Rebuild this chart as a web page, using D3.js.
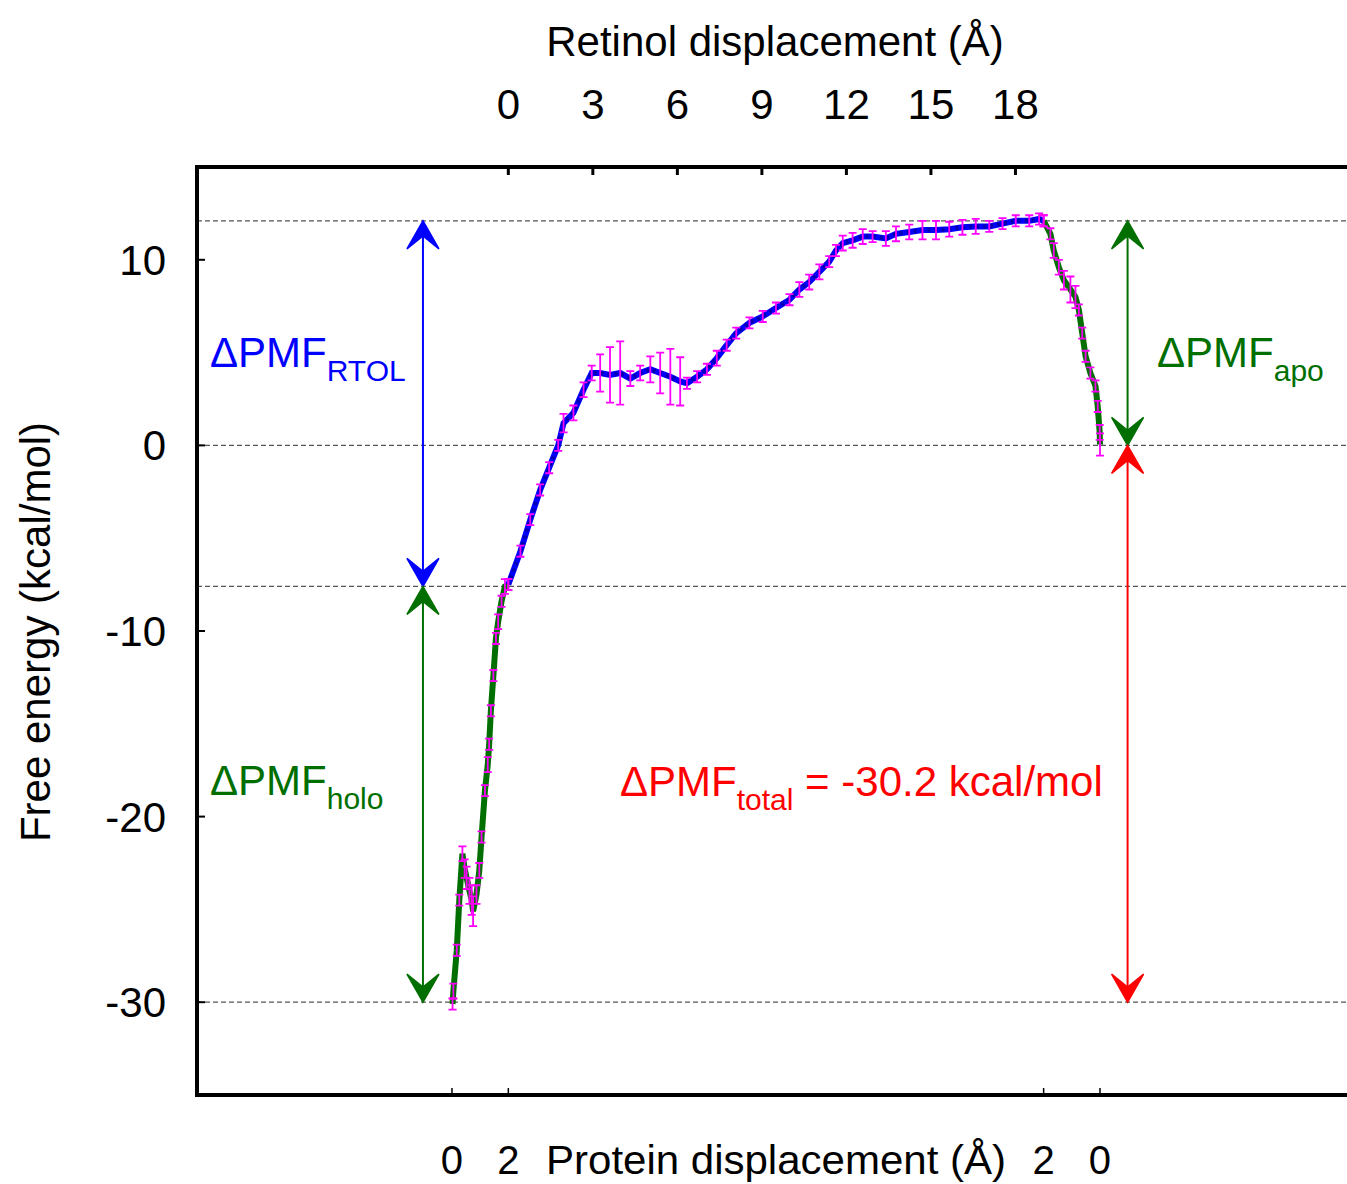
<!DOCTYPE html>
<html>
<head>
<meta charset="utf-8">
<script src="https://cdn.jsdelivr.net/npm/d3@7"></script>
<style>
  body { margin: 0; background: #fff; }
  text { font-family: "Liberation Sans", Arial, Helvetica, sans-serif; }
</style>
</head>
<body>
<svg width="1347" height="1184"></svg>
<script>
// holo segment: protein displacement 0 -> 2 A
const holoP   = [0.02, 0.05, 0.17, 0.26, 0.37, 0.45, 0.52, 0.62, 0.70, 0.75, 0.87, 0.97, 1.05, 1.17, 1.27, 1.32, 1.38, 1.47, 1.56, 1.64, 1.76, 1.88, 2.0];
const holoE   = [-30.1, -29.4, -27.2, -24.5, -22.0, -22.8, -23.3, -24.0, -24.5, -25.1, -24.2, -22.9, -21.1, -18.6, -17.2, -16.1, -14.3, -12.4, -10.4, -9.5, -8.4, -7.6, -7.5];
const holoErr = [0.3, 0.4, 0.3, 0.3, 0.4, 0.5, 0.6, 0.7, 0.8, 0.8, 0.5, 0.4, 0.3, 0.3, 0.4, 0.3, 0.3, 0.3, 0.3, 0.4, 0.3, 0.4, 0.3];

// retinol segment: retinol displacement 0 -> 19 A
const retR   = [0, 0.43, 0.78, 1.13, 1.45, 1.77, 1.96, 2.31, 2.67, 2.96, 3.26, 3.61, 3.97, 4.33, 4.68, 5.04, 5.39, 5.75, 6.1, 6.34, 6.7, 7.05, 7.4, 7.75, 8.09, 8.56, 9.03, 9.5, 9.98, 10.33, 10.68, 11.04, 11.39, 11.63, 11.87, 12.22, 12.58, 12.93, 13.4, 13.76, 14.23, 14.7, 15.18, 15.65, 16.12, 16.59, 17.07, 17.54, 18.01, 18.49, 18.84, 19.0];
const retE   = [-7.5, -5.7, -4.0, -2.4, -1.2, 0.0, 1.2, 1.75, 3.0, 3.9, 3.9, 3.8, 3.9, 3.6, 3.9, 4.1, 3.9, 3.7, 3.45, 3.35, 3.7, 4.1, 4.7, 5.4, 6.05, 6.6, 6.95, 7.4, 7.85, 8.4, 8.8, 9.35, 9.9, 10.5, 10.9, 11.05, 11.25, 11.25, 11.15, 11.4, 11.5, 11.6, 11.6, 11.65, 11.75, 11.8, 11.8, 11.95, 12.1, 12.1, 12.2, 12.1];
const retErr = [0.3, 0.3, 0.3, 0.3, 0.3, 0.3, 0.5, 0.4, 0.4, 0.4, 1.0, 1.5, 1.7, 0.4, 0.4, 0.7, 1.1, 1.5, 1.3, 0.3, 0.3, 0.3, 0.4, 0.3, 0.3, 0.3, 0.3, 0.3, 0.3, 0.4, 0.4, 0.4, 0.3, 0.3, 0.4, 0.4, 0.4, 0.3, 0.4, 0.4, 0.4, 0.5, 0.5, 0.4, 0.4, 0.4, 0.3, 0.3, 0.3, 0.3, 0.3, 0.3];

// apo segment: protein displacement 2 -> 0 A
const apoP   = [2.0, 1.76, 1.64, 1.46, 1.28, 1.05, 0.87, 0.75, 0.63, 0.51, 0.34, 0.16, 0.08, 0.01, 0.0];
const apoE   = [12.1, 11.4, 10.5, 9.6, 8.9, 8.4, 8.0, 7.3, 6.05, 4.8, 3.9, 3.2, 2.1, 0.7, 0.05];
const apoErr = [0.3, 0.3, 0.4, 0.4, 0.5, 0.7, 0.6, 0.3, 0.3, 0.3, 0.3, 0.3, 0.3, 0.4, 0.6];

const yTicks = [10, 0, -10, -20, -30];
const retTicks = [0, 3, 6, 9, 12, 15, 18];
const protTicks = [0, 2];
const refLevels = [12.1, 0, -7.6, -30];

const svg = d3.select("svg");

// one running coordinate: 0..2 holo, 2..21 retinol, 21..23 apo
const x = d3.scaleLinear().domain([-9.05, 32]).range([197, 197 + 41.05 * 28.174]);
const y = d3.scaleLinear().domain([-35, 15]).range([1095, 167]);
const holoS = p => p;
const retS = r => 2 + r;
const apoS = p => 23 - p;

const blue = "#0000ff", green = "#006f00", red = "#ff0000", magenta = "#ff00ff";

// dashed reference levels
svg.selectAll(".ref").data(refLevels).enter().append("line")
    .attr("x1", 197).attr("x2", 1347)
    .attr("y1", d => y(d)).attr("y2", d => y(d))
    .attr("stroke", "#555").attr("stroke-width", 1.3).attr("stroke-dasharray", "5,3");

// curve
let holo = holoP.map((p, i) => ({s: holoS(p), e: holoE[i], err: holoErr[i]}));
let ret = retR.map((r, i) => ({s: retS(r), e: retE[i], err: retErr[i]}));
let apo = apoP.map((p, i) => ({s: apoS(p), e: apoE[i], err: apoErr[i]}));

const line = d3.line().x(d => x(d.s)).y(d => y(d.e));
svg.append("path").datum(holo).attr("d", line)
    .attr("fill", "none").attr("stroke", green).attr("stroke-width", 6);
svg.append("path").datum(apo).attr("d", line)
    .attr("fill", "none").attr("stroke", green).attr("stroke-width", 6);
svg.append("path").datum(ret).attr("d", line)
    .attr("fill", "none").attr("stroke", blue).attr("stroke-width", 6);
svg.append("path").datum(ret).attr("d", line)
    .attr("fill", "none").attr("stroke", "#0000b0").attr("stroke-width", 4)
    .attr("stroke-dasharray", "3,4");

// error bars
let allPts = holo.concat(ret, apo);
let bars = svg.append("g").attr("stroke", magenta).attr("stroke-width", 1.8).attr("fill", "none");
bars.selectAll("path").data(allPts).enter().append("path")
    .attr("d", function (d) {
        let cx = x(d.s), y1 = y(d.e + d.err), y2 = y(d.e - d.err);
        return "M" + cx + "," + y1 + "V" + y2 +
            "M" + (cx - 4) + "," + y1 + "H" + (cx + 4) +
            "M" + (cx - 4) + "," + y2 + "H" + (cx + 4);
    });

// double arrows
function arrowHead(cx, cy, dir, color) {
    // dir = -1 pointing up, 1 pointing down
    let L = 28, W = 16, N = 15;
    svg.append("path")
        .attr("d", "M" + cx + "," + cy +
            "L" + (cx - W) + "," + (cy - dir * L) +
            "L" + cx + "," + (cy - dir * N) +
            "L" + (cx + W) + "," + (cy - dir * L) + "Z")
        .attr("fill", color).attr("stroke", color).attr("stroke-width", 1.5)
        .attr("stroke-linejoin", "miter");
}
function dblArrow(s, top, bottom, color) {
    let cx = x(s), y1 = y(top), y2 = y(bottom);
    svg.append("line").attr("x1", cx).attr("x2", cx).attr("y1", y1 + 4).attr("y2", y2 - 4)
        .attr("stroke", color).attr("stroke-width", 2);
    arrowHead(cx, y1, -1, color);
    arrowHead(cx, y2, 1, color);
}
dblArrow(-1.03, 12.1, -7.6, blue);
dblArrow(-1.03, -7.6, -30, green);
dblArrow(23.98, 12.1, 0, green);
dblArrow(23.98, 0, -30, red);

// frame
svg.append("path")
    .attr("d", "M1347," + y(15) + "H" + x(-9.05) + "V" + y(-35) + "H1347")
    .attr("fill", "none").attr("stroke", "#000").attr("stroke-width", 4);

// left ticks
svg.selectAll(".yt").data(yTicks).enter().append("line")
    .attr("x1", 197).attr("x2", 205)
    .attr("y1", d => y(d)).attr("y2", d => y(d))
    .attr("stroke", "#000").attr("stroke-width", 2);
svg.selectAll(".ytl").data(yTicks).enter().append("text")
    .attr("x", 166).attr("y", d => y(d) + 15)
    .attr("text-anchor", "end").attr("font-size", 42)
    .text(d => d);

// top ticks (retinol)
svg.selectAll(".tt").data(retTicks).enter().append("line")
    .attr("x1", d => x(retS(d))).attr("x2", d => x(retS(d)))
    .attr("y1", y(15)).attr("y2", y(15) + 8)
    .attr("stroke", "#000").attr("stroke-width", 3);
svg.selectAll(".ttl").data(retTicks).enter().append("text")
    .attr("x", d => x(retS(d))).attr("y", 119)
    .attr("text-anchor", "middle").attr("font-size", 42)
    .text(d => d);
svg.append("text").attr("x", 775).attr("y", 56)
    .attr("text-anchor", "middle").attr("font-size", 42)
    .text("Retinol displacement (Å)");

// bottom ticks (protein)
let protPos = protTicks.map(p => holoS(p)).concat(protTicks.map(p => apoS(p)));
let protLab = protTicks.concat(protTicks);
svg.selectAll(".bt").data(protPos).enter().append("line")
    .attr("x1", d => x(d)).attr("x2", d => x(d))
    .attr("y1", y(-35)).attr("y2", y(-35) - 7)
    .attr("stroke", "#000").attr("stroke-width", 1.5);
svg.selectAll(".btl").data(protPos).enter().append("text")
    .attr("x", d => x(d)).attr("y", 1174)
    .attr("text-anchor", "middle").attr("font-size", 40)
    .text((d, i) => protLab[i]);
svg.append("text").attr("x", 776).attr("y", 1174)
    .attr("text-anchor", "middle").attr("font-size", 40)
    .attr("textLength", 460).attr("lengthAdjust", "spacingAndGlyphs")
    .text("Protein displacement (Å)");

// y title
svg.append("text")
    .attr("transform", "translate(50,632) rotate(-90)")
    .attr("text-anchor", "middle").attr("font-size", 42)
    .text("Free energy (kcal/mol)");

// annotations
function pmfLabel(px, py, sub, color, rest) {
    let t = svg.append("text").attr("x", px).attr("y", py)
        .attr("font-size", 42).attr("fill", color);
    t.append("tspan").text("ΔPMF");
    t.append("tspan").attr("font-size", 30).attr("dy", 14).text(sub);
    if (rest) t.append("tspan").attr("dy", -14).text(rest);
}
pmfLabel(210, 367, "RTOL", blue);
pmfLabel(210, 795, "holo", green);
pmfLabel(1157, 367, "apo", green);
pmfLabel(620, 796, "total", red, " = -30.2 kcal/mol");
</script>
</body>
</html>
